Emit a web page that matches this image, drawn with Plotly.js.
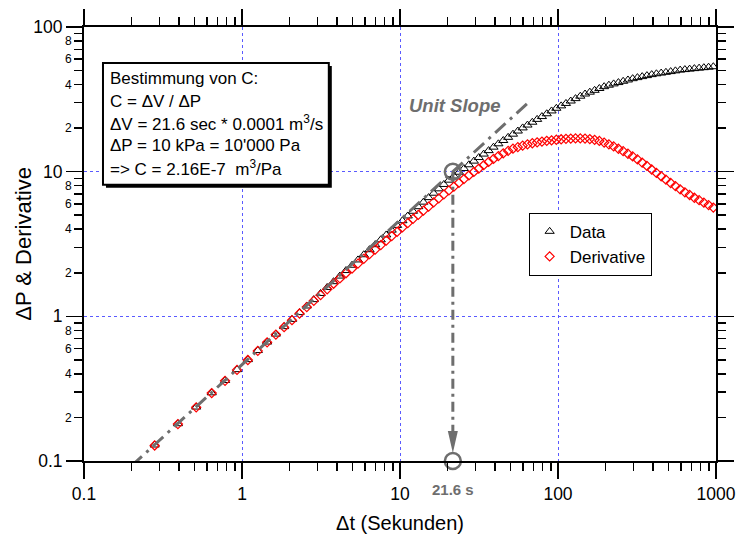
<!DOCTYPE html>
<html><head><meta charset="utf-8">
<script src="https://cdn.plot.ly/plotly-3.0.1.min.js"></script>
<style>html,body{margin:0;padding:0;background:#fff}</style>
</head><body><div id="chart" style="width:743px;height:540px"></div>
<script>
// ---- data ----
const timeSec = [0.28,0.393,0.513,0.643,0.781,0.93,1.089,1.259,1.442,1.638,
  1.847,2.072,2.313,2.57,2.847,3.143,3.46,3.799,4.163,4.553,
  4.971,5.419,5.898,6.412,6.963,7.553,8.185,8.862,9.587,10.36,
  11.2,12.09,13.05,14.07,15.17,16.34,17.6,18.95,20.4,21.95,
  23.61,25.38,27.29,29.33,31.52,33.86,36.37,39.06,41.94,45.03,
  48.34,51.88,55.68,59.75,64.1,68.78,73.78,79.14,84.88,91.04,
  97.63,104.7,112.3,120.4,129.1,138.4,148.3,159,170.5,182.7,
  195.9,209.9,225,241.2,258.5,277.1,296.9,318.2,341,365.5,
  391.7,419.7,449.8,482,516.5,553.5,593.1,635.5,681,729.7,
  781.9,837.8,897.7,961.9];
const deltaP = [0.129,0.181,0.236,0.296,0.36,0.428,0.502,0.58,0.664,0.754,
  0.849,0.952,1.061,1.179,1.305,1.439,1.583,1.736,1.898,2.072,
  2.255,2.454,2.665,2.888,3.127,3.381,3.653,3.943,4.252,4.58,
  4.941,5.323,5.728,6.156,6.616,7.096,7.61,8.159,8.736,9.329,
  9.906,10.51,11.16,11.83,12.52,13.23,13.98,14.77,15.58,16.42,
  17.27,18.16,19.09,20.07,21.0,21.97,22.98,24.04,25.14,26.29,
  27.43,28.5,29.62,30.78,31.99,33.24,34.42,35.45,36.5,37.58,
  38.69,39.6,40.44,41.29,42.15,43.04,43.94,44.68,45.4,46.13,
  46.87,47.49,48.05,48.62,49.19,49.78,50.36,50.78,51.17,51.56,
  51.95,52.35,52.75,53.15];
const derivative = [0.128,0.18,0.235,0.295,0.358,0.426,0.499,0.577,0.661,0.748,
  0.841,0.94,1.046,1.159,1.279,1.403,1.538,1.68,1.827,1.986,
  2.14,2.313,2.498,2.689,2.888,3.109,3.338,3.586,3.839,4.115,
  4.407,4.713,5.033,5.374,5.738,6.127,6.535,6.966,7.414,7.886,
  8.373,8.883,9.413,9.953,10.51,11.08,11.67,12.24,12.82,13.38,
  13.92,14.41,14.77,15.13,15.45,15.72,15.95,16.15,16.33,16.48,
  16.62,16.75,16.86,16.94,16.98,16.98,16.93,16.8,16.6,16.3,
  15.9,15.45,14.95,14.4,13.85,13.3,12.75,12.15,11.55,10.95,
  10.35,9.8,9.3,8.8,8.35,7.95,7.55,7.2,6.9,6.6,
  6.35,6.1,5.88,5.65];
const unitSlopeX = [0.2, 66];
const unitSlopeY = [0.0926, 30.56];
const markX = [21.6, 21.6];
const markY = [10, 0.1];
const arrowX = [21.6, 21.6];
const arrowY = [10, 0.14];
const xMajor = [0.1, 1, 10, 100, 1000];
const xMajorText = ['0.1', '1', '10', '100', '1000'];
const yMajor = [0.1, 1, 10, 100];
const yMajorText = ['0.1', '1', '10', '100'];
const xMinor = [0.2,0.3,0.4,0.5,0.6,0.7,0.8,0.9,2,3,4,5,6,7,8,9,20,30,40,50,60,70,80,90,200,300,400,500,600,700,800,900];
const yMinor = [0.2,0.3,0.4,0.5,0.6,0.7,0.8,0.9,2,3,4,5,6,7,8,9,20,30,40,50,60,70,80,90];
const yMinorText = ['2','','4','','6','','8','', '2','','4','','6','','8','', '2','','4','','6','','8',''];
const boxLines = ['Bestimmung von C:', 'C = ΔV / ΔP', 'ΔV = 21.6 sec * 0.0001 m<sup>3</sup>/s',
  'ΔP = 10 kPa = 10\'000 Pa', '=> C = 2.16E-7  m<sup>3</sup>/Pa'];

// ---- layout helpers ----
const FONT = 'Liberation Sans, Arial, sans-serif';
const W = 743, H = 540, ML = 84, MR = 26.5, MT = 27, MB = 78.5;
const PW = W - ML - MR, PH = H - MT - MB;
const px2x = p => (p - ML) / PW;
const py2y = p => 1 - (p - MT) / PH;
const GREY = '#6e6e6e';

const traces = [
  {x: timeSec, y: deltaP, name: 'Data', type: 'scatter', mode: 'markers',
   marker: {symbol: 'triangle-up-open', size: 8, color: '#000', line: {width: 1, color: '#000'}}},
  {x: timeSec, y: derivative, name: 'Derivative', type: 'scatter', mode: 'markers',
   marker: {symbol: 'diamond-open', size: 7, color: '#ff0000', line: {width: 1.2, color: '#ff0000'}}},
  {x: unitSlopeX, y: unitSlopeY, type: 'scatter', mode: 'lines', showlegend: false, hoverinfo: 'skip',
   line: {color: GREY, width: 3, dash: '14px,6px,3px,6px'}},
  {x: arrowX, y: arrowY, type: 'scatter', mode: 'lines', showlegend: false, hoverinfo: 'skip',
   line: {color: GREY, width: 3, dash: '10px,5px,3px,5px'}},
  {x: markX, y: markY, type: 'scatter', mode: 'markers', showlegend: false, hoverinfo: 'skip', cliponaxis: false,
   marker: {symbol: 'circle-open', size: 16, color: GREY, line: {width: 2.5, color: GREY}}},
  // empty trace that only switches on the overlay axes carrying the minor ticks
  {x: [], y: [], xaxis: 'x2', yaxis: 'y2', type: 'scatter', mode: 'markers', showlegend: false, hoverinfo: 'skip'}
];

const lineCommon = {
  type: 'log', showline: true, linecolor: '#000', linewidth: 2, mirror: 'ticks',
  ticks: 'outside', tickwidth: 1.5, tickcolor: '#000', zeroline: false, tickmode: 'array'
};

const annotations = boxLines.map((t, i) => ({
  xref: 'paper', yref: 'paper', x: px2x(108), y: py2y(79 + i * 22.2), xanchor: 'left', yanchor: 'middle',
  text: t, showarrow: false, font: {family: FONT, size: 17, color: '#000'}
}));
annotations.push({xref: 'x', yref: 'y', x: Math.log10(22.2), y: 1.46, text: '<b><i>Unit Slope</i></b>',
  showarrow: false, font: {family: FONT, size: 18.5, color: GREY}});
annotations.push({xref: 'x', yref: 'paper', x: Math.log10(21.6), y: py2y(490), text: '<b>21.6 s</b>',
  showarrow: false, yanchor: 'middle', font: {family: FONT, size: 15, color: GREY}});
// y axis title
annotations.push({xref: 'paper', yref: 'paper', x: px2x(24), y: py2y(244), xanchor: 'center', yanchor: 'middle',
  textangle: -90, text: 'ΔP & Derivative', showarrow: false, font: {family: FONT, size: 22, color: '#000'}});

const shapes = [
  {type: 'rect', xref: 'paper', yref: 'paper', layer: 'above',
   x0: px2x(106), x1: px2x(332), y0: py2y(188), y1: py2y(66), fillcolor: '#000', line: {width: 0}},
  {type: 'rect', xref: 'paper', yref: 'paper', layer: 'above',
   x0: px2x(103), x1: px2x(329), y0: py2y(185), y1: py2y(63), fillcolor: '#fff', line: {width: 2, color: '#000'}},
  {type: 'path', xref: 'x', yref: 'y', xsizemode: 'pixel', ysizemode: 'pixel', xanchor: 21.6, yanchor: 0.1,
   path: 'M-5,30 L5,30 L0,8 Z', fillcolor: GREY, line: {width: 0}}
];

const layout = {
  width: W, height: H, margin: {l: ML, r: MR, t: MT, b: MB},
  paper_bgcolor: '#fff', plot_bgcolor: '#fff', font: {family: FONT, color: '#000'},
  showlegend: true,
  legend: {x: px2x(529), y: py2y(213), xanchor: 'left', yanchor: 'top', bgcolor: '#fff',
    bordercolor: '#000', borderwidth: 1, font: {family: FONT, size: 17, color: '#000'}},
  xaxis: Object.assign({}, lineCommon, {range: [-1, 3], tickvals: xMajor, ticktext: xMajorText, ticklen: 16,
    showgrid: true, gridcolor: '#5a5aff', griddash: '3px,3px', gridwidth: 1,
    tickfont: {family: FONT, size: 17.5, color: '#000'},
    title: {text: 'Δt (Sekunden)', font: {family: FONT, size: 20, color: '#000'}, standoff: 13}}),
  xaxis2: Object.assign({}, lineCommon, {range: [-1, 3], overlaying: 'x', side: 'bottom', anchor: 'y',
    tickvals: xMinor, ticktext: xMinor.map(() => ''), ticklen: 8, showgrid: false,
    tickfont: {family: FONT, size: 10, color: '#000'}}),
  yaxis: Object.assign({}, lineCommon, {range: [-1, 2], tickvals: yMajor, ticktext: yMajorText, ticklen: 16,
    showgrid: true, gridcolor: '#5a5aff', griddash: '3px,3px', gridwidth: 1,
    tickfont: {family: FONT, size: 17.5, color: '#000'}}),
  yaxis2: Object.assign({}, lineCommon, {range: [-1, 2], overlaying: 'y', side: 'left', anchor: 'x',
    tickvals: yMinor, ticktext: yMinorText, ticklen: 8, showgrid: false,
    tickfont: {family: FONT, size: 12, color: '#000'}}),
  annotations: annotations,
  shapes: shapes
};

Plotly.newPlot('chart', traces, layout, {displayModeBar: false, staticPlot: true});
</script></body></html>
